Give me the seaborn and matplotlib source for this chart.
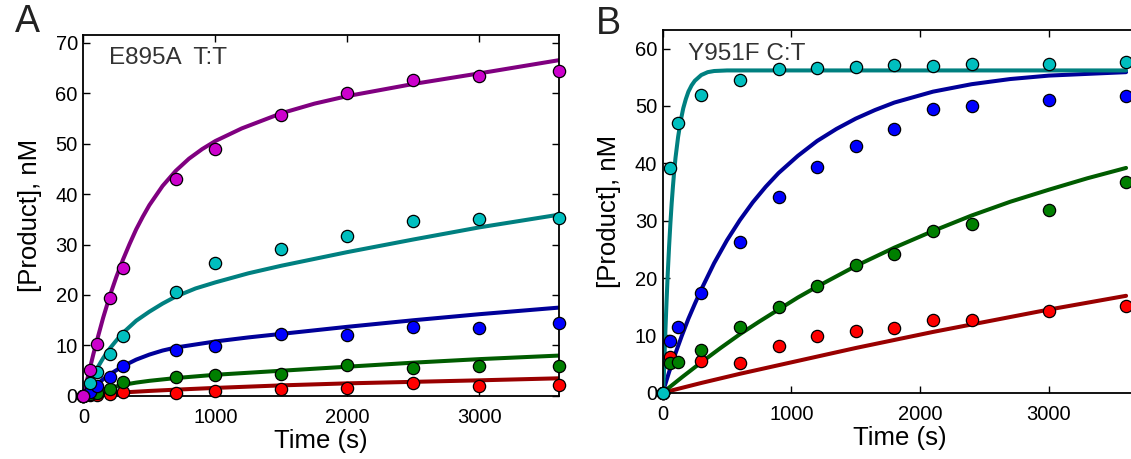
import numpy as np
import matplotlib
matplotlib.use("Agg")
import matplotlib.pyplot as plt
import seaborn as sns

# ---- panel A: E895A T:T ----
a_time = [0, 50, 100, 200, 300, 700, 1000, 1500, 2000, 2500, 3000, 3600]
a_magenta = [0, 5.1, 10.3, 19.5, 25.4, 43.0, 48.9, 55.6, 60.0, 62.5, 63.3, 64.4]
a_cyan = [0, 2.6, 4.7, 8.3, 11.9, 20.6, 26.4, 29.2, 31.6, 34.7, 35.1, 35.3]
a_blue = [0, 0.8, 1.9, 3.7, 5.9, 9.2, 9.9, 12.2, 12.0, 13.6, 13.5, 14.4]
a_green = [0, 0.3, 0.6, 1.3, 2.7, 3.8, 4.1, 4.3, 6.1, 5.6, 5.9, 6.0]
a_red = [0, 0.1, 0.2, 0.4, 0.8, 0.6, 0.9, 1.3, 1.5, 2.5, 2.0, 2.1]

# fitted curves
a_fit_magenta_time = [0, 25, 50, 75, 100, 150, 200, 250, 300, 350, 400, 450, 500, 600,
                      700, 800, 900, 1000, 1200, 1500, 1750, 2000, 2500, 3000, 3600]
a_fit_magenta = [0, 2.8, 5.5, 8.2, 10.7, 15.5, 19.8, 23.6, 27.0, 30.1, 33.0, 35.5, 37.8, 41.6,
                 44.6, 47.0, 48.9, 50.5, 53.0, 56.0, 57.9, 59.4, 61.8, 63.9, 66.5]
a_fit_cyan_time = [0, 25, 50, 100, 150, 200, 250, 300, 400, 500, 600, 700, 850, 1000,
                   1250, 1500, 2000, 2500, 3000, 3600]
a_fit_cyan = [0, 1.4, 2.7, 5.3, 7.5, 9.4, 11.0, 12.5, 14.9, 16.7, 18.3, 19.7, 21.3, 22.5,
              24.3, 25.8, 28.5, 31.0, 33.4, 35.9]
a_fit_blue_time = [0, 50, 100, 150, 200, 300, 400, 500, 600, 700, 850, 1000, 1250, 1500,
                   2000, 2500, 3000, 3600]
a_fit_blue = [0, 1.2, 2.3, 3.3, 4.3, 5.9, 7.2, 8.2, 9.0, 9.6, 10.2, 10.8, 11.6, 12.3,
              13.7, 15.0, 16.2, 17.5]
a_fit_time = [0, 50, 100, 200, 300, 400, 500, 700, 1000, 1500, 2000, 2500, 3000, 3600]
a_fit_green = [0, 0.5, 0.9, 1.6, 2.2, 2.65, 3.0, 3.55, 4.2, 5.0, 5.8, 6.6, 7.3, 8.0]
a_fit_red = [0, 0.15, 0.3, 0.5, 0.7, 0.85, 1.0, 1.25, 1.6, 2.1, 2.5, 2.8, 3.1, 3.5]

# ---- panel B: Y951F C:T ----
b_time = [0, 60, 120, 300, 600, 900, 1200, 1500, 1800, 2100, 2400, 3000, 3600]
b_cyan = [0, 39.2, 47.0, 52.0, 54.6, 56.5, 56.7, 56.8, 57.1, 57.0, 57.4, 57.3, 57.7]
b_blue = [0, 9.1, 11.4, 17.4, 26.2, 34.2, 39.4, 43.0, 46.0, 49.4, 50.0, 51.1, 51.7]
b_green = [0, 5.1, 5.3, 7.5, 11.5, 14.9, 18.6, 22.3, 24.2, 28.2, 29.5, 31.9, 36.7]
b_red = [0, 6.3, np.nan, 5.6, 5.1, 8.2, 9.9, 10.7, 11.2, 12.7, 12.6, 14.2, 15.2]

b_fit_cyan_time = [0, 5, 10, 20, 30, 40, 50, 60, 70, 80, 90, 100, 120, 140, 160, 180,
                   200, 225, 250, 300, 350, 400, 500, 3600]
b_fit_cyan = [0, 0.5, 3.5, 10.0, 15.8, 21.0, 25.5, 29.5, 33.0, 36.0, 38.7, 41.0, 44.6, 47.4,
              49.6, 51.2, 52.5, 53.6, 54.4, 55.4, 55.9, 56.1, 56.2, 56.2]
b_fit_blue_time = [0, 25, 50, 100, 150, 200, 250, 300, 400, 500, 600, 700, 800, 900, 1050,
                   1200, 1350, 1500, 1650, 1800, 2100, 2400, 2700, 3000, 3600]
b_fit_blue = [0, 1.8, 3.6, 6.9, 10.0, 12.9, 15.5, 18.0, 22.6, 26.6, 30.1, 33.2, 35.9, 38.3,
              41.3, 43.9, 46.0, 47.8, 49.3, 50.6, 52.5, 53.8, 54.7, 55.3, 55.9]
b_fit_green_time = [0, 150, 300, 450, 600, 750, 900, 1050, 1200, 1350, 1500, 1800, 2100,
                    2400, 2700, 3000, 3300, 3600]
b_fit_green = [0, 2.7, 5.3, 7.8, 10.2, 12.4, 14.5, 16.6, 18.5, 20.3, 22.1, 25.3, 28.2,
               30.9, 33.3, 35.4, 37.4, 39.2]
b_fit_red_time = [0, 300, 600, 900, 1200, 1500, 1800, 2100, 2400, 3000, 3600]
b_fit_red = [0, 1.7, 3.3, 4.8, 6.3, 7.8, 9.2, 10.6, 11.9, 14.5, 16.9]

pt_colors = {"red": "#ff0000", "green": "#007f00", "blue": "#0000ff",
             "cyan": "#00bfbf", "magenta": "#cc00cc"}
fit_colors = {"red": "#990000", "green": "#005c00", "blue": "#000099",
              "cyan": "#008080", "magenta": "#800080"}

sns.set_style("ticks")
plt.rcParams["font.family"] = ["Liberation Sans", "DejaVu Sans"]
plt.rcParams["text.color"] = "black"
plt.rcParams["axes.labelcolor"] = "black"

fig = plt.figure(figsize=(11.31, 4.59), dpi=100)
ax_a = fig.add_axes([0.0737, 0.1373, 0.4203, 0.7865])
ax_b = fig.add_axes([0.5859, 0.1444, 0.42, 0.7896])


def draw(ax, fit_t, fit_y, t, y, name):
    sns.lineplot(x=fit_t, y=fit_y, ax=ax, color=fit_colors[name], lw=2.9,
                 estimator=None, sort=False, zorder=2)
    sns.scatterplot(x=t, y=y, ax=ax, color=pt_colors[name], edgecolor="black",
                    linewidth=0.9, s=78, zorder=3, clip_on=False)


draw(ax_a, a_fit_time, a_fit_red, a_time, a_red, "red")
draw(ax_a, a_fit_time, a_fit_green, a_time, a_green, "green")
draw(ax_a, a_fit_blue_time, a_fit_blue, a_time, a_blue, "blue")
draw(ax_a, a_fit_cyan_time, a_fit_cyan, a_time, a_cyan, "cyan")
draw(ax_a, a_fit_magenta_time, a_fit_magenta, a_time, a_magenta, "magenta")

draw(ax_b, b_fit_red_time, b_fit_red, b_time, b_red, "red")
draw(ax_b, b_fit_green_time, b_fit_green, b_time, b_green, "green")
draw(ax_b, b_fit_blue_time, b_fit_blue, b_time, b_blue, "blue")
draw(ax_b, b_fit_cyan_time, b_fit_cyan, b_time, b_cyan, "cyan")

ax_a.set_xlim(0, 3600)
ax_a.set_ylim(0, 71.5)
ax_a.set_yticks(range(0, 71, 10))
ax_b.set_xlim(0, 3690)
ax_b.set_ylim(0, 63.2)
ax_b.set_yticks(range(0, 61, 10))

for ax in (ax_a, ax_b):
    ax.set_xticks([0, 1000, 2000, 3000])
    ax.tick_params(direction="in", top=True, right=True, length=5, width=1,
                   labelsize=14.5, colors="black")
    ax.tick_params(axis="x", pad=9)
    ax.tick_params(axis="y", pad=4)
    for sp in ax.spines.values():
        sp.set_linewidth(1.3)
        sp.set_color("black")
    ax.set_xlabel("Time (s)", fontsize=18.5, labelpad=1)
    ax.set_ylabel("[Product], nM", fontsize=18.5, labelpad=10)

ax_a.text(195, 67.0, "E895A  T:T", fontsize=17.5, color="#333333", va="center")
ax_b.text(197, 59.0, "Y951F C:T", fontsize=17.5, color="#333333", va="center")

fig.text(0.0245, 0.952, "A", fontsize=27, color="#222222", ha="center", va="center")
fig.text(0.538, 0.948, "B", fontsize=27, color="#222222", ha="center", va="center")

fig.savefig("out.png", dpi=100)
